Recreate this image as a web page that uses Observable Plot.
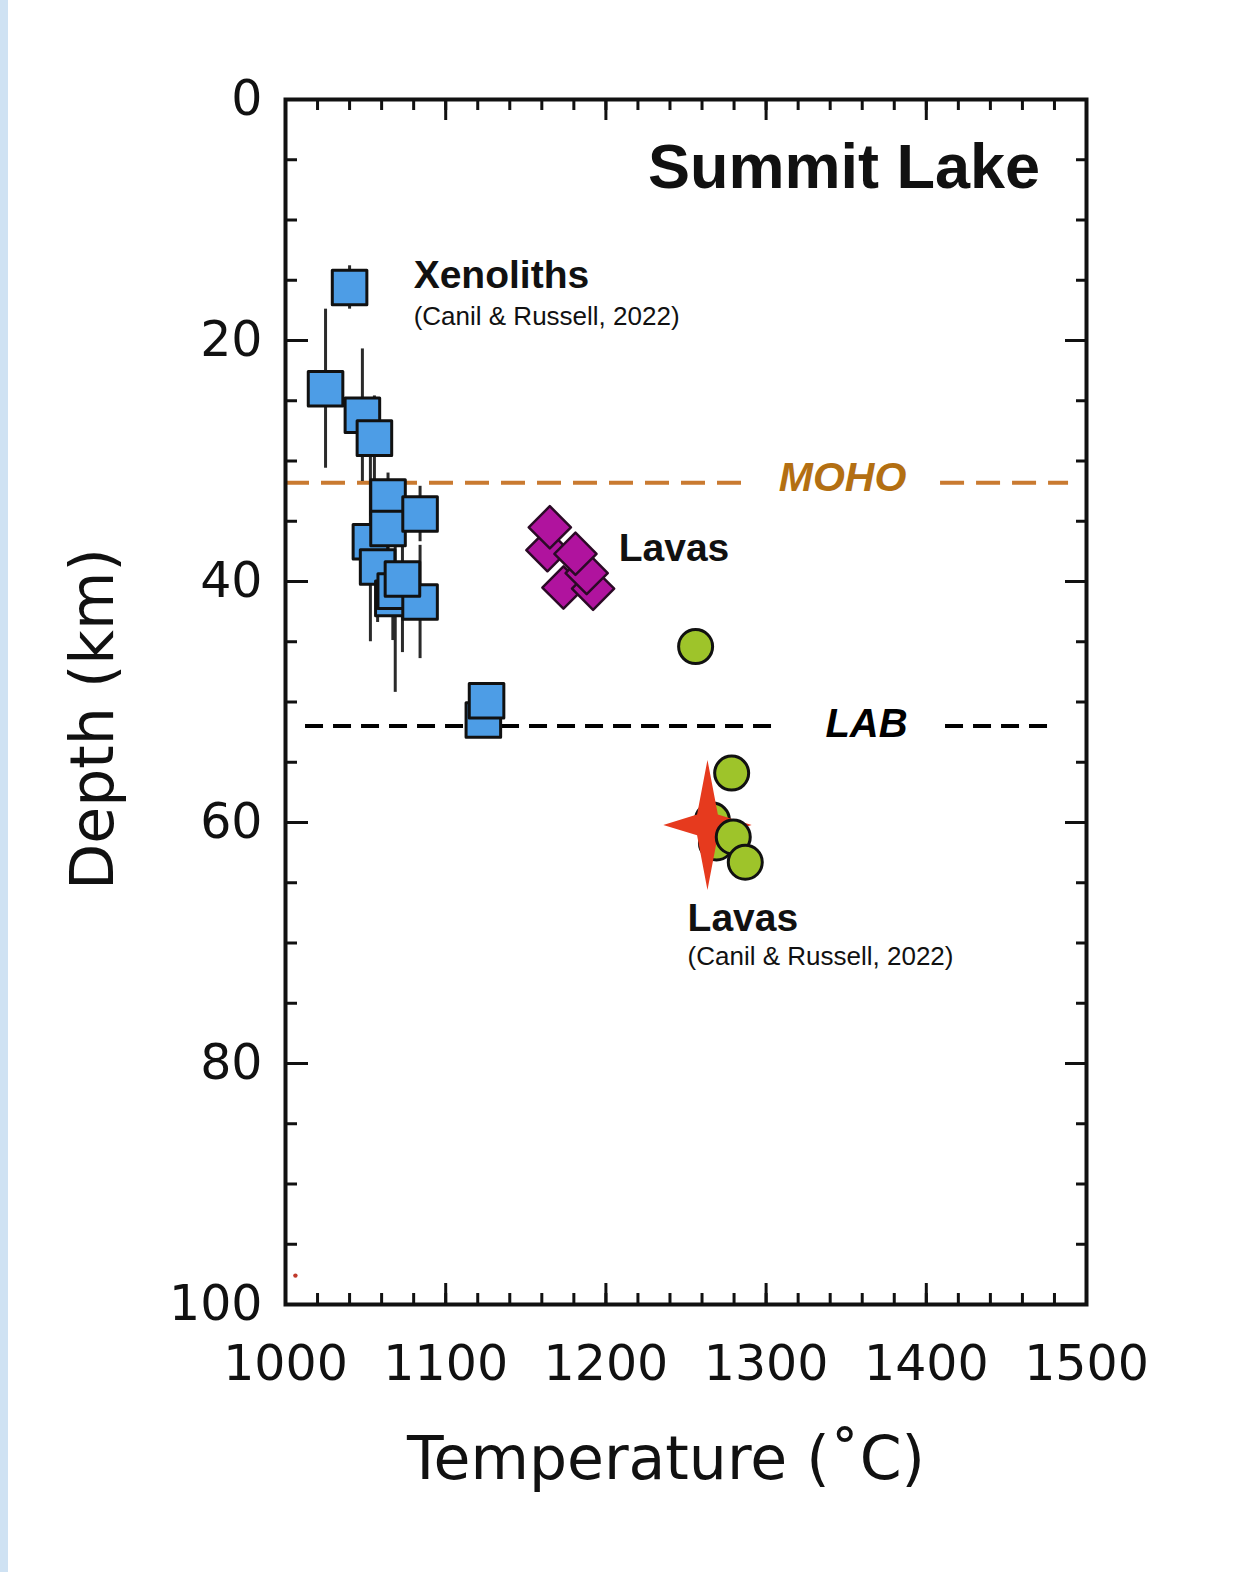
<!DOCTYPE html>
<html><head><meta charset="utf-8">
<script src="https://cdn.jsdelivr.net/npm/d3@7"></script>
<script src="https://cdn.jsdelivr.net/npm/@observablehq/plot@0.6"></script>
<style>
html,body{margin:0;padding:0;background:#fff;}
#wrap{position:relative;width:1257px;height:1572px;overflow:hidden;background:#fff;}
#stripe{position:absolute;left:0;top:0;width:8px;height:1572px;background:#cfe2f3;z-index:2;}
svg{display:block;}
</style></head><body><div id="wrap"><div id="chart"></div><div id="stripe"></div></div>
<script>
// ---- data ----
// Xenoliths (Canil & Russell, 2022): temperature (°C), depth (km), depth uncertainty (km)
const xenoT     = [1040, 1025, 1048, 1055.5, 1053, 1064, 1064, 1084, 1057.5, 1067, 1068.5, 1084, 1073, 1123.5, 1125.5];
const xenoDepth = [15.6, 24.0, 26.2, 28.1,   36.7, 33.0, 35.6, 34.4, 38.8,   41.4, 40.8,   41.7, 39.8, 51.5,   49.9];
const xenoErr   = [1.8,  6.6,  5.5,  3.5,    8.3,  2.0,  3.0,  2.3,  4.6,    3.5,  8.4,    4.7,  6.1,  0,      0];
// Lavas (this study)
const lavaT     = [1163.5, 1165, 1173.5, 1192, 1188, 1181];
const lavaDepth = [37.4,   35.5, 40.5,   40.6, 39.3, 37.7];
// Lavas (Canil & Russell, 2022)
const canilT        = [1256, 1278.5, 1266.5, 1269];
const canilDepth    = [45.4, 55.9,   59.8,   61.7];
const canilFrontT     = [1279.5, 1287];
const canilFrontDepth = [61.2,   63.3];
// Star
const starT = [1263.4], starDepth = [60.2];
// stray dot
const dotT = [1006.2], dotDepth = [97.6];
// Boundaries
const mohoDepth = 31.8;
const mohoSegments = [[1000, 1285.3], [1408.9, 1488.8]];
const labDepth = 52.0;
const labSegments = [[1012.5, 1307], [1412, 1479.4]];
// Ticks
const xTickLabels = [1000, 1100, 1200, 1300, 1400, 1500];
const yTickLabels = [0, 20, 40, 60, 80, 100];
const xMinorTicks = d3.range(1000, 1501, 20);
const yMinorTicks = d3.range(0, 101, 5);

// ---- annotation texts (label anchor in data units) ----
const titleLabel = [{T: 1471, d: 5.7, text: "Summit Lake"}];
const groupLabels = [
  {T: 1080, d: 14.6, text: "Xenoliths"},
  {T: 1208, d: 37.3, text: "Lavas"},
  {T: 1251, d: 68.0, text: "Lavas"}
];
const citeLabels = [
  {T: 1080, d: 18.0, text: "(Canil & Russell, 2022)"},
  {T: 1251, d: 71.1, text: "(Canil & Russell, 2022)"}
];
const mohoLabel = [{T: 1347.7, d: 31.4, text: "MOHO"}];
const labLabel = [{T: 1362.7, d: 51.8, text: "LAB"}];

// ---- tables ----
const xeno = xenoT.map((t, i) => ({T: t, d: xenoDepth[i], e: xenoErr[i]}));
const xenoBars = xeno.filter(r => r.e > 0);
const lavas = lavaT.map((t, i) => ({T: t, d: lavaDepth[i]}));
const canil = canilT.map((t, i) => ({T: t, d: canilDepth[i]}));
const canilFront = canilFrontT.map((t, i) => ({T: t, d: canilFrontDepth[i]}));
const star = starT.map((t, i) => ({T: t, d: starDepth[i]}));
const dots = dotT.map((t, i) => ({T: t, d: dotDepth[i]}));
const moho = mohoSegments.map(s => ({x1: s[0], x2: s[1], y: mohoDepth}));
const lab = labSegments.map(s => ({x1: s[0], x2: s[1], y: labDepth}));

// four-pointed star symbol
const star4 = {
  draw(ctx, size) {
    const r = Math.sqrt(size / Math.PI);
    const h = r, w = r * 0.68, k = r * 0.16;
    ctx.moveTo(0, -h);
    ctx.lineTo(k, -k);
    ctx.lineTo(w, 0);
    ctx.lineTo(k, k);
    ctx.lineTo(0, h);
    ctx.lineTo(-k, k);
    ctx.lineTo(-w, 0);
    ctx.lineTo(-k, -k);
    ctx.closePath();
  }
};

const W = 1257, H = 1572;
const mL = 285, mR = 171, mT = 99, mB = 268;
const innerW = W - mL - mR, innerH = H - mT - mB;
const minorLen = 11, majorLen = 21;
const tickStyle = {stroke: "#111", strokeWidth: 3};
const sans = "Liberation Sans, Arial, Helvetica, sans-serif";
const axisFont = "DejaVu Sans, Verdana, sans-serif";
const txt = {x: "T", y: "d", text: "text", fontFamily: sans};

const chart = Plot.plot({
  width: W, height: H,
  marginLeft: mL, marginRight: mR, marginTop: mT, marginBottom: mB,
  style: {fontFamily: axisFont, background: "white", color: "#111"},
  x: {domain: [1000, 1500]},
  y: {domain: [0, 100], reverse: true},
  marks: [
    // tick labels
    Plot.axisX({ticks: xTickLabels, tickSize: 0, tickPadding: 41, fontSize: 49, tickFormat: d => String(d), label: null, fontFamily: axisFont}),
    Plot.axisY({ticks: yTickLabels, tickSize: 0, tickPadding: 23, fontSize: 49, tickFormat: d => String(d), label: null, fontFamily: axisFont}),
    // inward ticks, bottom / top
    Plot.tickX(xMinorTicks, {x: d => d, insetTop: innerH - minorLen, ...tickStyle}),
    Plot.tickX(xTickLabels, {x: d => d, insetTop: innerH - majorLen, ...tickStyle}),
    Plot.tickX(xMinorTicks, {x: d => d, insetBottom: innerH - minorLen, ...tickStyle}),
    Plot.tickX(xTickLabels, {x: d => d, insetBottom: innerH - majorLen, ...tickStyle}),
    // inward ticks, left / right
    Plot.tickY(yMinorTicks, {y: d => d, insetRight: innerW - minorLen - 1, ...tickStyle}),
    Plot.tickY(yTickLabels, {y: d => d, insetRight: innerW - majorLen - 2, ...tickStyle}),
    Plot.tickY(yMinorTicks, {y: d => d, insetLeft: innerW - minorLen + 1, ...tickStyle}),
    Plot.tickY(yTickLabels, {y: d => d, insetLeft: innerW - majorLen, ...tickStyle}),
    // boundaries
    Plot.ruleY(moho, {y: "y", x1: "x1", x2: "x2", stroke: "#c97a30", strokeWidth: 4, strokeDasharray: "24,12"}),
    Plot.ruleY(lab, {y: "y", x1: "x1", x2: "x2", stroke: "#000", strokeWidth: 4, strokeDasharray: "18,10"}),
    // xenolith error bars and squares
    Plot.ruleX(xenoBars, {x: "T", y1: r => r.d - r.e, y2: r => r.d + r.e, stroke: "#2a2a2a", strokeWidth: 3}),
    Plot.dot(xeno, {x: "T", y: "d", symbol: "square", r: 19.5, fill: "#4d9de6", stroke: "#111", strokeWidth: 3, strokeLinejoin: "round"}),
    // lavas (diamonds)
    Plot.dot(lavas, {x: "T", y: "d", symbol: "diamond2", r: 19, fill: "#b0139e", stroke: "#2b0a26", strokeWidth: 2.5, strokeLinejoin: "round"}),
    // Canil & Russell lavas (circles), star, front circles
    Plot.dot(canil, {x: "T", y: "d", r: 17, fill: "#9ec42a", stroke: "#111", strokeWidth: 3}),
    Plot.dot(star, {x: "T", y: "d", symbol: star4, r: 65, fill: "#e63a1e", stroke: "none"}),
    Plot.dot(canilFront, {x: "T", y: "d", r: 17, fill: "#9ec42a", stroke: "#111", strokeWidth: 3}),
    Plot.dot(dots, {x: "T", y: "d", r: 2.2, fill: "#c0392b"}),
    // annotations
    Plot.text(titleLabel, {...txt, fontSize: 63, fontWeight: "bold", textAnchor: "end", fill: "#111"}),
    Plot.text(groupLabels, {...txt, fontSize: 39, fontWeight: "bold", textAnchor: "start", fill: "#111"}),
    Plot.text(citeLabels, {...txt, fontSize: 26, textAnchor: "start", fill: "#111"}),
    Plot.text(mohoLabel, {...txt, fontSize: 41, fontWeight: "bold", fontStyle: "italic", textAnchor: "middle", fill: "#b36f12"}),
    Plot.text(labLabel, {...txt, fontSize: 40, fontWeight: "bold", fontStyle: "italic", textAnchor: "middle", fill: "#000"}),
    // axis titles
    Plot.text(["Depth (km)"], {frameAnchor: "left", textAnchor: "middle", lineAnchor: "middle", dx: -192, dy: 17, rotate: -90, fontSize: 60, fill: "#111", fontFamily: axisFont}),
    Plot.text(["Temperature (˚C)"], {frameAnchor: "bottom", textAnchor: "middle", lineAnchor: "middle", dx: -20, dy: 155, fontSize: 60, fill: "#111", fontFamily: axisFont}),
    Plot.frame({stroke: "#111", strokeWidth: 4})
  ]
});
document.getElementById("chart").appendChild(chart);
</script>
</body></html>
